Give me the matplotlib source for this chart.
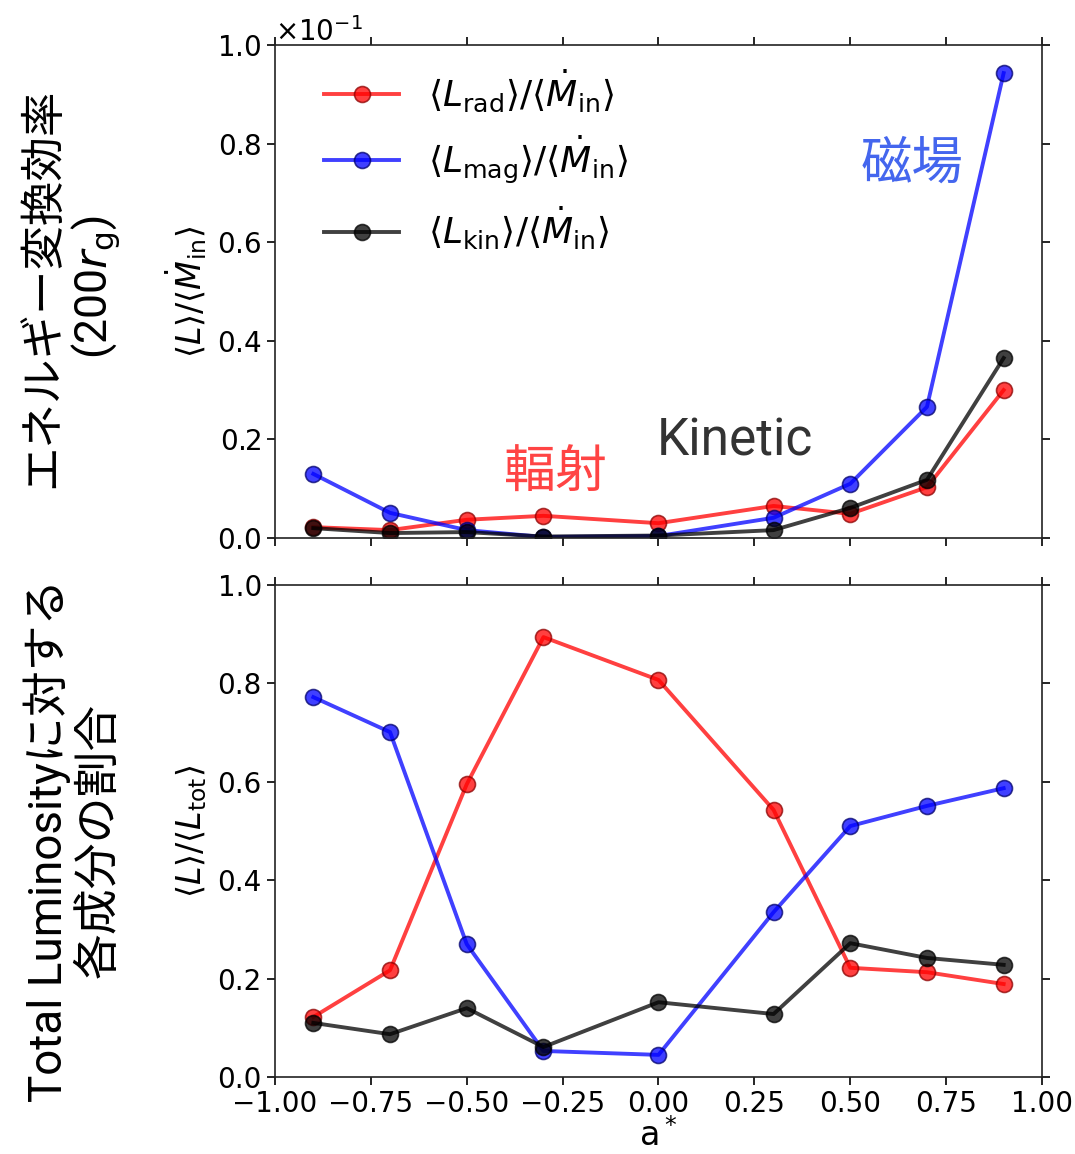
import matplotlib
matplotlib.use("Agg")
import matplotlib.pyplot as plt
import numpy as np

# spin parameter
spin = [-0.9, -0.7, -0.5, -0.3, 0.0, 0.3, 0.5, 0.7, 0.9]

# energy conversion efficiency at 200 r_g  (L / Mdot_in)
eff_rad = [0.0022, 0.0016, 0.0037, 0.0045, 0.0030, 0.0065, 0.0049, 0.0103, 0.0300]
eff_mag = [0.0130, 0.0051, 0.0016, 0.0002, 0.0004, 0.0041, 0.0110, 0.0266, 0.0943]
eff_kin = [0.0020, 0.0010, 0.0012, 0.0003, 0.0005, 0.0016, 0.0061, 0.0118, 0.0365]

# fraction of total luminosity  (L / L_tot)
frac_rad = [0.122, 0.217, 0.595, 0.894, 0.807, 0.543, 0.222, 0.213, 0.189]
frac_mag = [0.772, 0.701, 0.270, 0.053, 0.045, 0.335, 0.510, 0.551, 0.587]
frac_kin = [0.110, 0.087, 0.140, 0.061, 0.152, 0.128, 0.272, 0.242, 0.228]

labels = [
    r"$\langle L_{\rm rad}\rangle/\langle \dot{M}_{\rm in}\rangle$",
    r"$\langle L_{\rm mag}\rangle/\langle \dot{M}_{\rm in}\rangle$",
    r"$\langle L_{\rm kin}\rangle/\langle \dot{M}_{\rm in}\rangle$",
]
colors = ["red", "blue", "black"]
edge_colors = ["#8b0000", "#00006b", "black"]

jp_font = ["Roboto", "Noto Sans CJK JP", "DejaVu Sans"]

fig = plt.figure(figsize=(10.75, 11.54), dpi=100)
ax_top = fig.add_axes([0.2558, 0.5338, 0.7135, 0.4272])
ax_bot = fig.add_axes([0.2558, 0.0667, 0.7135, 0.4264], sharex=ax_top)


def draw_series(ax, series, with_labels=False):
    for i, ys in enumerate(series):
        ax.plot(
            spin, ys,
            color=colors[i],
            marker="o",
            markersize=11.5,
            markerfacecolor=colors[i],
            markeredgecolor=edge_colors[i],
            markeredgewidth=1.2,
            linewidth=2.8,
            alpha=0.75,
            label=labels[i] if with_labels else None,
        )


draw_series(ax_top, [eff_rad, eff_mag, eff_kin], with_labels=True)
draw_series(ax_bot, [frac_rad, frac_mag, frac_kin])

for ax in (ax_top, ax_bot):
    ax.set_xlim(-1.0, 1.0)
    ax.tick_params(axis="both", which="major", direction="out", length=6,
                   width=1.2, labelsize=20, top=True, right=True)
    for sp in ax.spines.values():
        sp.set_linewidth(1.2)
        sp.set_color("#222222")

ax_top.set_ylim(0, 0.1)
ax_top.set_yticks(np.arange(0, 0.1001, 0.02))
ax_top.ticklabel_format(axis="y", style="sci", scilimits=(0, 0), useMathText=True)
ax_top.yaxis.get_offset_text().set_fontsize(20)
ax_top.tick_params(axis="x", labelbottom=False)
ax_top.set_ylabel(r"$\langle L\rangle/\langle \dot{M}_{\rm in}\rangle$", fontsize=24,
                  labelpad=6)

ax_bot.set_ylim(0, 1.0)
ax_bot.set_yticks(np.arange(0, 1.001, 0.2))
ax_bot.set_xticks(np.arange(-1.0, 1.001, 0.25))
ax_bot.set_ylabel(r"$\langle L\rangle/\langle L_{\rm tot}\rangle$", fontsize=24,
                  labelpad=6)
ax_bot.set_xlabel(r"a$^*$", fontsize=24, labelpad=0)

ax_top.legend(loc="upper left", bbox_to_anchor=(0.021, 1.02), frameon=False,
              fontsize=26, handlelength=2.1, labelspacing=0.52, handletextpad=0.8)

# annotations
ax_top.text(0.661, 0.0757, "磁場", color="#4466ee", fontsize=37, family=jp_font,
            ha="center", va="center")
ax_top.text(-0.27, 0.0130, "輻射", color="#ff4444", fontsize=37, family=jp_font,
            ha="center", va="center")
ax_top.text(0.20, 0.0195, "Kinetic", color="#333333", fontsize=37, family=jp_font,
            ha="center", va="center")

# big japanese axis titles
fig.text(0.067, 0.751, "エネルギー変換効率\n(200$r_{\\rm g}$)", rotation=90,
         fontsize=32, family=jp_font, ha="center", va="center",
         multialignment="center", linespacing=1.15)
fig.text(0.067, 0.272, "Total Luminosityに対する\n各成分の割合", rotation=90,
         fontsize=33, family=jp_font, ha="center", va="center",
         multialignment="center", linespacing=1.15)

fig.savefig("out.png", dpi=100)
